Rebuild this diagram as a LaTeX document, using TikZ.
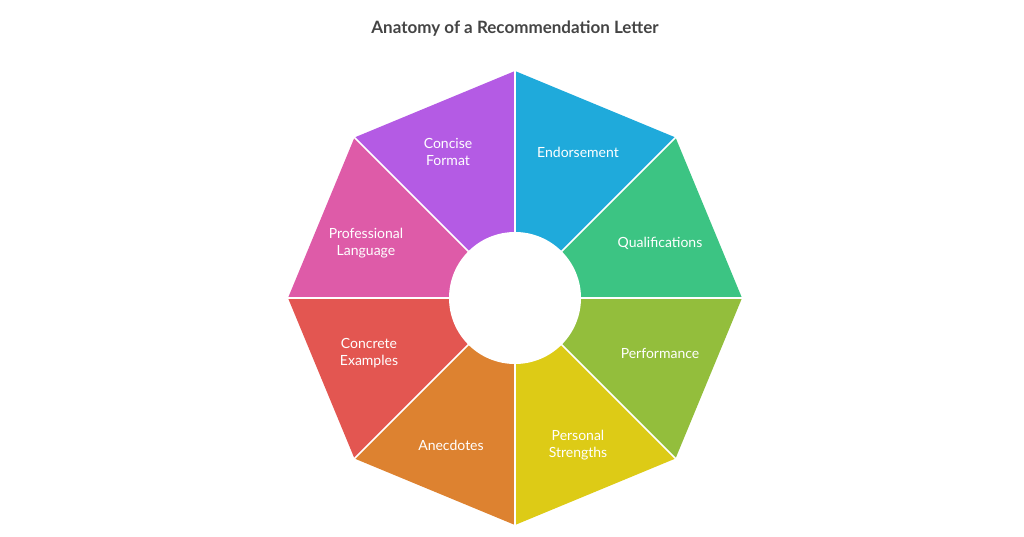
\documentclass[tikz,border=0pt]{standalone}
\usepackage{fontspec}
\setmainfont{Lato}
\usetikzlibrary{calc}
\definecolor{cA}{HTML}{1FAADB}
\definecolor{cB}{HTML}{3CC483}
\definecolor{cC}{HTML}{93BE3C}
\definecolor{cD}{HTML}{DDCB16}
\definecolor{cE}{HTML}{DD8230}
\definecolor{cF}{HTML}{E35651}
\definecolor{cG}{HTML}{DE5BA8}
\definecolor{cH}{HTML}{B45BE4}
\definecolor{ttl}{HTML}{444444}
\tikzset{lbl/.style={text=white,font=\fontsize{14}{17}\selectfont,align=center}}
\begin{document}
\begin{tikzpicture}[x=1pt,y=1pt]
\useasboundingbox (0,0) rectangle (1024,536);
\node[font=\bfseries\fontsize{17}{20}\selectfont,text=ttl] (title) at (515,507) {Anatomy of a Recommendation Letter};
\coordinate (c) at (515,238);
\foreach \a/\col in {90/cA,45/cB,0/cC,-45/cD,-90/cE,-135/cF,180/cG,135/cH}{
  \fill[\col] ($(c)+(\a:66)$) -- ($(c)+(\a:227)$) -- ($(c)+(\a-45:227)$) -- ($(c)+(\a-45:66)$) -- cycle;
}
\foreach \a in {90,45,0,-45,-90,-135,180,135}{
  \draw[white,line width=1.5pt] ($(c)+(\a:60)$) -- ($(c)+(\a:228)$);
}
\fill[white] (c) circle (66);
\node[lbl] (n1) at (578,384) {Endorsement};
\node[lbl] (n2) at (660,293) {Qualifications};
\node[lbl] (n3) at (660,183) {Performance};
\node[lbl] (n4) at (578,91) {Personal\\Strengths};
\node[lbl] (n5) at (451,91) {Anecdotes};
\node[lbl] (n6) at (369,183) {Concrete\\Examples};
\node[lbl] (n7) at (366,293) {Professional\\Language};
\node[lbl] (n8) at (448,384) {Concise\\Format};
\end{tikzpicture}
\end{document}
